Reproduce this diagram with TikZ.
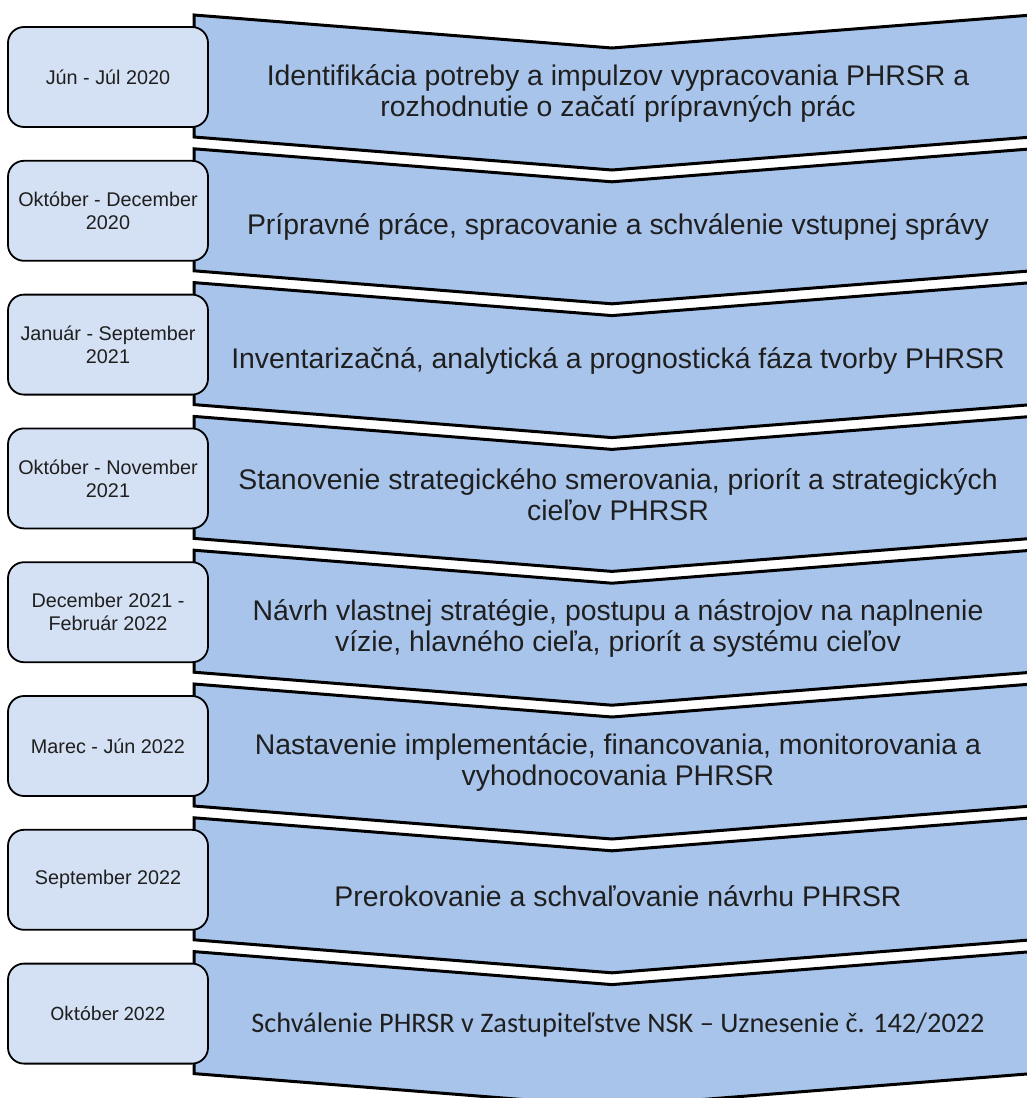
\documentclass[tikz,border=0pt]{standalone}
\usepackage{fontspec}
\setmainfont{Liberation Sans}
\newfontfamily\calibrifont{Carlito}
\definecolor{chevfill}{HTML}{A8C4EB}
\definecolor{boxfill}{HTML}{D4E0F3}
\definecolor{txtcol}{HTML}{1F1F1F}
\tikzset{
  chev/.style={fill=chevfill, draw=black, line width=3pt, line join=miter},
  datebox/.style={draw=black, fill=boxfill, line width=1.8pt, rounded corners=16pt,
    minimum width=200pt, minimum height=100pt, align=center, inner sep=0pt,
    font=\fontsize{19.8}{23}\selectfont, text=txtcol},
  steptext/.style={align=center, font=\fontsize{28.4}{31.5}\selectfont, text=txtcol}
}
\newcommand\PHrow[5]{%
  \filldraw[chev] (194,#2) -- (612,{#2+33}) -- (1032,#2) -- (1032,{#2+122})
     -- (612,{#2+155}) -- (194,{#2+122}) -- cycle;
  \node[datebox] (d#1) at (108,{#2+62}) {#3};
  \node[steptext] (s#1) at (618,{#2+#5}) {#4};
}
\begin{document}
\begin{tikzpicture}[x=1pt,y=-1pt]
\useasboundingbox (0,0) rectangle (1027,1098);
\clip (0,0) rectangle (1027,1098);
\PHrow{1}{15}{Jún - Júl 2020}{Identifikácia potreby a impulzov vypracovania PHRSR a\\rozhodnutie o začatí prípravných prác}{78.5}
\PHrow{2}{148.8}{Október - December\\2020}{Prípravné práce, spracovanie a schválenie vstupnej správy}{78.5}
\PHrow{3}{282.6}{Január - September\\2021}{Inventarizačná, analytická a prognostická fáza tvorby PHRSR}{78.5}
\PHrow{4}{416.4}{Október - November\\2021}{Stanovenie strategického smerovania, priorít a strategických\\cieľov PHRSR}{78.5}
\PHrow{5}{550.2}{December 2021 -\\Február 2022}{Návrh vlastnej stratégie, postupu a nástrojov na naplnenie\\vízie, hlavného cieľa, priorít a systému cieľov}{78.5}
\PHrow{6}{684}{Marec - Jún 2022}{Nastavenie implementácie, financovania, monitorovania a\\vyhodnocovania PHRSR}{78.5}
\PHrow{7}{817.8}{September 2022}{Prerokovanie a schvaľovanie návrhu PHRSR}{78.5}
\PHrow{8}{951.6}{\calibrifont\fontsize{20.5}{24}\selectfont Október 2022}{\calibrifont\fontsize{28.3}{32}\selectfont Schválenie PHRSR v Zastupiteľstve NSK – Uznesenie č. 142/2022}{73}
\end{tikzpicture}
\end{document}
